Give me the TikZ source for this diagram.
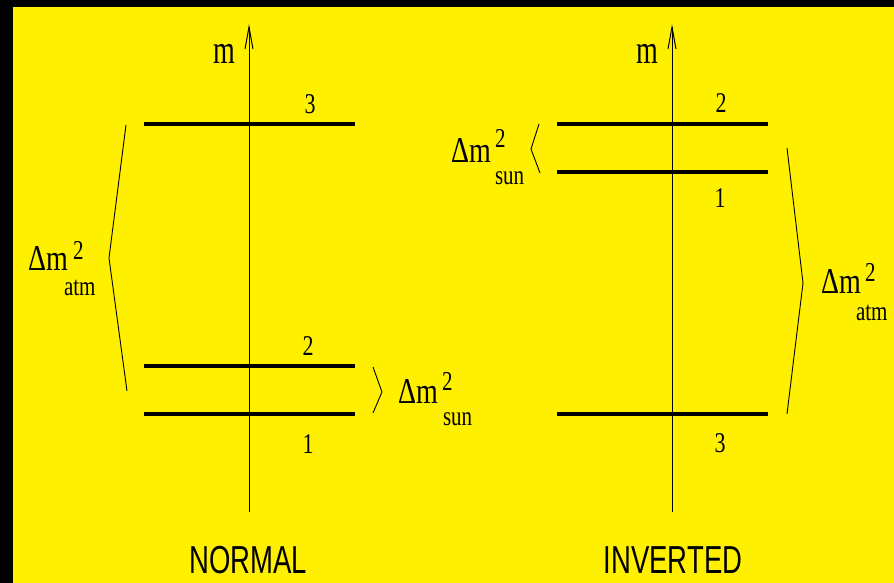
\documentclass[tikz,border=0pt]{standalone}
\usepackage{fontspec}
\setmainfont{Liberation Serif}
\setsansfont{Liberation Sans}
\definecolor{bgyellow}{RGB}{255,240,0}
\newcommand{\bigdm}{\scalebox{1}[1.3]{\fontsize{28}{30}\selectfont Δm}}
\newcommand{\suptwo}{\scalebox{1}[1.3]{\fontsize{21}{23}\selectfont 2}}
\newcommand{\subtxt}[1]{\scalebox{1}[1.3]{\fontsize{21}{23}\selectfont #1}}
\newcommand{\lvdigit}[1]{\scalebox{1}[1.3]{\fontsize{22}{24}\selectfont #1}}
\newcommand{\axm}{\scalebox{1}[1.45]{\fontsize{28}{30}\selectfont m}}
\newcommand{\ttl}[1]{\scalebox{1}[1.42]{\sffamily\fontsize{27.5}{30}\selectfont #1}}
\begin{document}
\begin{tikzpicture}[x=1pt,y=-1pt,
  lab/.style={inner sep=0pt,outer sep=0pt,anchor=base west},
  dig/.style={inner sep=0pt,outer sep=0pt,anchor=base},
  level/.style={line width=4.6pt},
  axis/.style={line width=1pt},
  brack/.style={line width=0.9pt}]
\fill[black] (0,0) rectangle (894,583);
\fill[bgyellow] (13,7) rectangle (894,583);
\useasboundingbox (0,0) rectangle (894,583);
% ---------------- NORMAL ----------------
\draw[axis] (249,512) -- (249,27);
\draw[axis] (245,49) -- (249,27) -- (253,49);
\node[lab] (mL) at (213,64) {\axm};
\draw[level] (144,124) -- (355,124);
\draw[level] (144,366) -- (355,366);
\draw[level] (144,414) -- (355,414);
\node[dig] (n3) at (310,114) {\lvdigit{3}};
\node[dig] (n2) at (308,355) {\lvdigit{2}};
\node[dig] (n1) at (308,453) {\lvdigit{1}};
\draw[brack] (126,125) -- (109,258) -- (127,391);
\node[lab] (atmL) at (28,270) {\bigdm};
\node[lab] (atmL2) at (73,259) {\suptwo};
\node[lab] (atmLs) at (64,295) {\subtxt{atm}};
\draw[brack] (373,367) -- (382,392) -- (373,413);
\node[lab] (sunL) at (398,403) {\bigdm};
\node[lab] (sunL2) at (442,390) {\suptwo};
\node[lab] (sunLs) at (443,425) {\subtxt{sun}};
\node[anchor=base,inner sep=0pt] (normal) at (248,573) {\ttl{NORMAL}};
% ---------------- INVERTED ----------------
\draw[axis] (672,512) -- (672,27);
\draw[axis] (668,49) -- (672,27) -- (676,49);
\node[lab] (mR) at (636,64) {\axm};
\draw[level] (557,124) -- (768,124);
\draw[level] (557,172) -- (768,172);
\draw[level] (557,414) -- (768,414);
\node[dig] (i2) at (721,113) {\lvdigit{2}};
\node[dig] (i1) at (720,207) {\lvdigit{1}};
\node[dig] (i3) at (720,452) {\lvdigit{3}};
\draw[brack] (539,124) -- (531,149) -- (540,173);
\node[lab] (sunR) at (451,162) {\bigdm};
\node[lab] (sunR2) at (495,148) {\suptwo};
\node[lab] (sunRs) at (495,184) {\subtxt{sun}};
\draw[brack] (787,148) -- (803,283) -- (787,414);
\node[lab] (atmR) at (821,293) {\bigdm};
\node[lab] (atmR2) at (865,281) {\suptwo};
\node[lab] (atmRs) at (856,320) {\subtxt{atm}};
\node[anchor=base,inner sep=0pt] (inverted) at (673,573) {\ttl{INVERTED}};
\end{tikzpicture}
\end{document}
